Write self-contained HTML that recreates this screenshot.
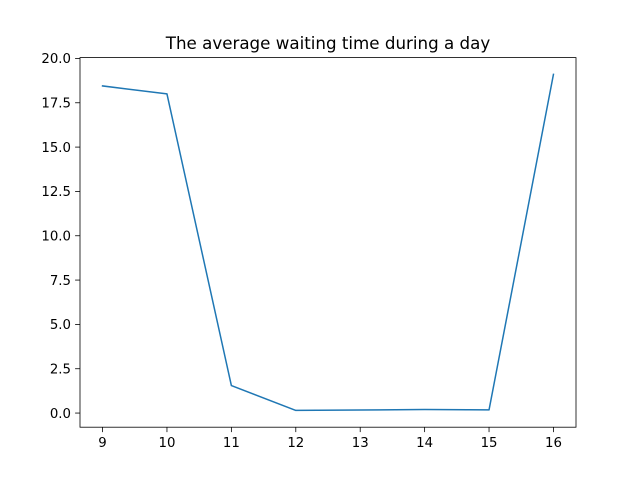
<!DOCTYPE html>
<html><head><meta charset="utf-8"><style>
body{margin:0;background:#fff;}
svg text{font-family:"DejaVu Sans","Liberation Sans",sans-serif;}
</style></head><body>
<svg id="chart" width="640" height="480" xmlns="http://www.w3.org/2000/svg">
<rect width="640" height="480" fill="#fff"/>
<text x="328" y="49" text-anchor="middle" font-size="16.7" fill="#000">The average waiting time during a day</text>
<g id="plot"></g>
</svg>
<script>
const hours=[9,10,11,12,13,14,15,16];
const waits=[18.45,18.0,1.55,0.15,0.17,0.2,0.18,19.1];
const xTicks=[9,10,11,12,13,14,15,16];
const yTicks=[0,2.5,5,7.5,10,12.5,15,17.5,20];
const yTickLabels=["0.0","2.5","5.0","7.5","10.0","12.5","15.0","17.5","20.0"];

const L=80,R=576,T=57.6,B=427.2;
const xmin=Math.min(...hours),xmax=Math.max(...hours),xr=xmax-xmin;
const x0=xmin-0.05*xr,x1=xmax+0.05*xr;
const ymn=Math.min(...waits),ymx=Math.max(...waits),yr=ymx-ymn;
const y0=ymn-0.05*yr,y1=ymx+0.05*yr;
const sx=v=>L+(v-x0)/(x1-x0)*(R-L);
const sy=v=>B-(v-y0)/(y1-y0)*(B-T);
const NS="http://www.w3.org/2000/svg";
const g=document.getElementById('plot');
function mk(t,a){const e=document.createElementNS(NS,t);for(const k in a)e.setAttribute(k,a[k]);g.appendChild(e);return e;}
xTicks.forEach(v=>{
  const X=sx(v);
  const l=mk('line',{x1:X,x2:X,y1:B,y2:B+4.9,stroke:'#000','stroke-width':0.8});
  
  
  const t=mk('text',{x:X,y:B+20,'text-anchor':'middle','font-size':13.3,fill:'#000'});
  t.textContent=v;
  
  
});
yTicks.forEach((v,i)=>{
  const Y=sy(v);
  const l=mk('line',{x1:L-4.9,x2:L,y1:Y,y2:Y,stroke:'#000','stroke-width':0.8});
  
  
  const t=mk('text',{x:L-9,y:Y+4.8,'text-anchor':'end','font-size':13.3,fill:'#000'});
  t.textContent=yTickLabels[i];
  
  
});
const pts=hours.map((h,i)=>sx(h)+','+sy(waits[i])).join(' ');
const pl=mk('polyline',{points:pts,fill:'none',stroke:'#1f77b4','stroke-width':1.5,'stroke-linejoin':'round','stroke-linecap':'square'});


const fr=mk('rect',{x:L,y:T,width:R-L,height:B-T,fill:'none',stroke:'#000','stroke-width':0.8});


</script>
</body></html>
